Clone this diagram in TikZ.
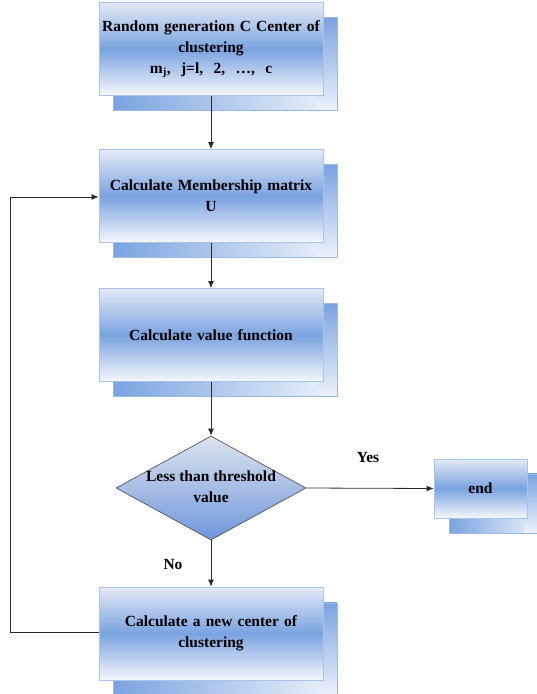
\documentclass[tikz,border=0pt]{standalone}
\usepackage{fontspec}
\setmainfont{Liberation Serif}
\usetikzlibrary{shapes.geometric,arrows.meta}
\definecolor{bmid}{HTML}{7AA3E0}
\definecolor{btop}{HTML}{E4EAF5}
\definecolor{bbot}{HTML}{F6F8FC}
\definecolor{bedge}{HTML}{A9C3EA}
\definecolor{sedge}{HTML}{9DB9E6}
\definecolor{sright}{HTML}{EEF3FB}
\definecolor{dtop}{HTML}{DDE3EE}
\definecolor{dbot}{HTML}{6F97DC}
\definecolor{lineclr}{HTML}{2A2A2A}
\tikzset{
  mainbox/.style={rectangle, draw=bedge, line width=0.8pt, top color=btop, bottom color=bbot, middle color=bmid,
    minimum width=224pt, minimum height=93pt, inner sep=0pt, align=center,
    font=\bfseries\fontsize{15.5}{21}\selectfont, text width=224pt},
  shadowbox/.style={rectangle, left color=bmid, right color=sright,
    minimum width=224pt, minimum height=93pt, inner sep=0pt},
  shadowedge/.style={draw=sedge, line width=0.6pt},
  endbox/.style={mainbox, minimum width=93pt, minimum height=59pt, text width=93pt},
  endshadow/.style={shadowbox, minimum width=93pt, minimum height=59pt},
  decision/.style={diamond, draw=lineclr!80, line width=0.7pt, top color=dtop, bottom color=dbot,
    minimum width=190pt, minimum height=104pt, inner sep=0pt, aspect=1.83},
  lbl/.style={font=\bfseries\fontsize{15.5}{21}\selectfont, align=center},
  conn/.style={draw=lineclr, line width=0.8pt},
  arr/.style={conn, -{Latex[length=7pt,width=6pt]}}
}
\begin{document}
\begin{tikzpicture}[x=1pt,y=-1pt]
\useasboundingbox (0,0) rectangle (537,694);
% shadows
\node[shadowbox] (s1) at (225,64) {};
\node[shadowbox] (s2) at (225,211) {};
\node[shadowbox] (s3) at (225,350) {};
\node[endshadow] (s4) at (495.5,503.5) {};
\node[shadowbox] (s5) at (225,649.5) {};
\foreach \s in {s1,s2,s3,s4,s5}{
  \shade[top color=bmid, bottom color=sright] ([xshift=-18pt]\s.north east) rectangle (\s.south east);
  \draw[shadowedge] (\s.north west) rectangle (\s.south east);
}
% main boxes
\node[mainbox] (b1) at (211,49) {Random generation C Center of\\clustering\\m\textsubscript{j},\ \ j=l,\ \ 2,\ \ \dots,\ \ c};
\node[mainbox] (b2) at (211,196) {Calculate Membership matrix\\U};
\node[mainbox] (b3) at (211,335) {Calculate value function};
\node[decision] (d) at (211,488) {};
\node[lbl] (dt) at (211,487) {Less than threshold\\value};
\node[endbox] (e) at (480.5,488.5) {end};
\node[mainbox] (b5) at (211,633.5) {Calculate a new center of\\clustering};
% labels
\node[lbl] (yes) at (368,457) {Yes};
\node[lbl] (no) at (173,564) {No};
% connectors
\draw[arr] (b1.south) -- (b2.north);
\draw[arr] (b2.south) -- (b3.north);
\draw[arr] (b3.south) -- (d.north);
\draw[arr] (d.south) -- (b5.north);
\draw[arr] (d.east) -- (e.west);
\coordinate (lb) at (10,632);
\coordinate (lt) at (10,197);
\draw[arr] (b5.west |- lb) -- (lb) -- (lt) -- (b2.west |- lt);
\end{tikzpicture}
\end{document}
